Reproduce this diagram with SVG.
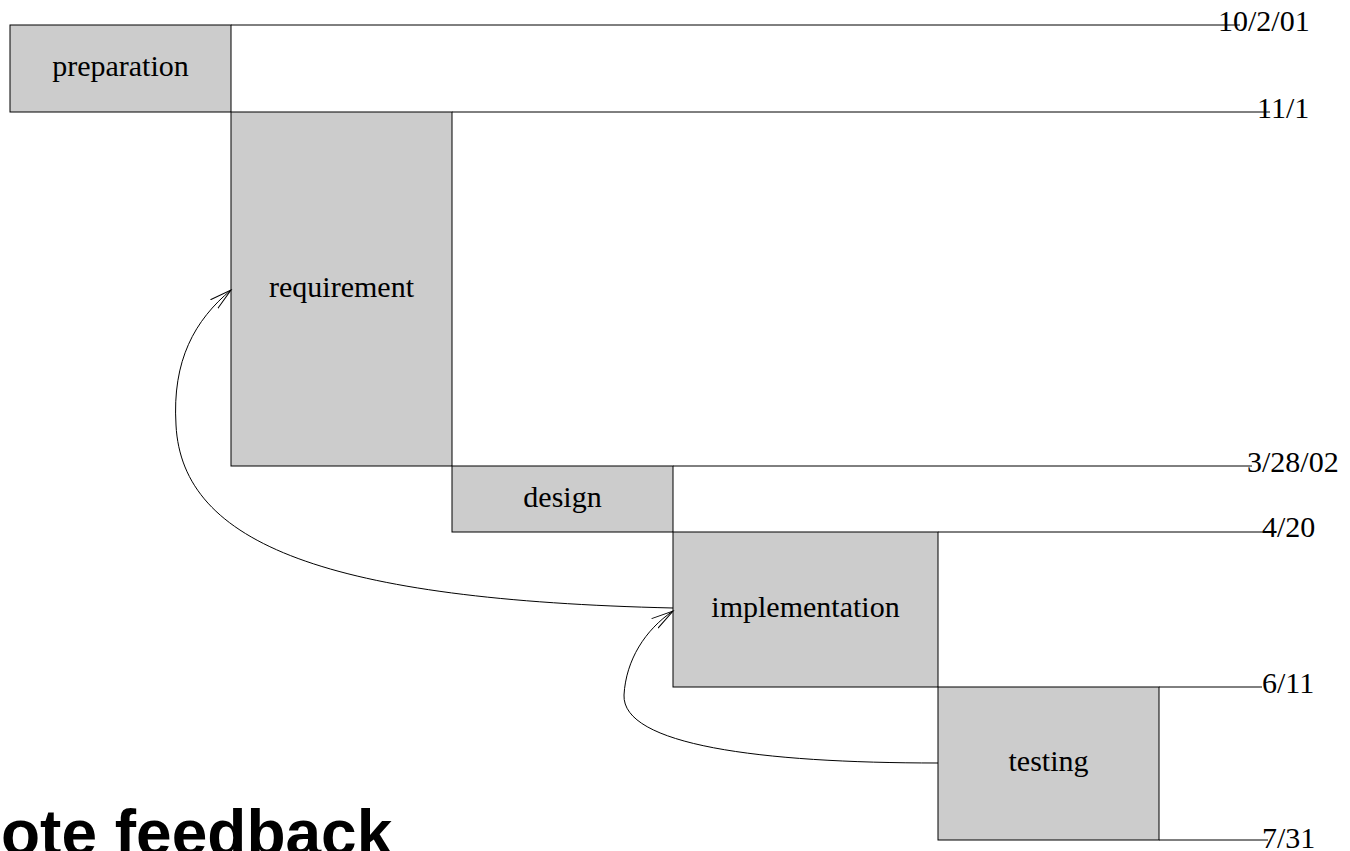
<svg xmlns="http://www.w3.org/2000/svg" width="1350" height="851" viewBox="0 0 1350 851">
  <style>
    .box { fill: #cccccc; stroke: #000000; stroke-width: 1; }
    .label { font-family: "Liberation Serif", "Times New Roman", serif; font-size: 30px; fill: #000000; }
    .node-label { text-anchor: middle; }
    .rule { stroke: #000000; stroke-width: 1; fill: none; }
    .flow { stroke: #000000; stroke-width: 1; fill: none; marker-end: url(#open-arrow); }
    .title { font-family: "Liberation Sans", Arial, sans-serif; font-weight: bold; font-size: 64px; fill: #000000; }
  </style>
  <defs>
    <marker id="open-arrow" viewBox="0 0 24 20" refX="22" refY="10" markerWidth="24" markerHeight="20" markerUnits="userSpaceOnUse" orient="auto">
      <path d="M0,4.3 L22,10 L0,15.7" fill="none" stroke="#000000" stroke-width="1"/>
    </marker>
  </defs>
  <rect width="1350" height="851" fill="#ffffff"/>

  <!-- milestone rules with dates -->
  <g id="milestones">
    <line class="rule" x1="231" y1="25" x2="1240" y2="25"/>
    <line class="rule" x1="452" y1="112" x2="1270" y2="112"/>
    <line class="rule" x1="673" y1="466" x2="1252" y2="466"/>
    <line class="rule" x1="938" y1="532" x2="1263" y2="532"/>
    <line class="rule" x1="1159" y1="687" x2="1262" y2="687"/>
    <line class="rule" x1="1159" y1="840" x2="1268" y2="840"/>
    <text class="label" x="1218" y="31">10/2/01</text>
    <text class="label" x="1257" y="118">11/1</text>
    <text class="label" x="1247" y="472">3/28/02</text>
    <text class="label" x="1262" y="537">4/20</text>
    <text class="label" x="1262" y="693">6/11</text>
    <text class="label" x="1262" y="848">7/31</text>
  </g>

  <!-- phases -->
  <g id="preparation">
    <rect class="box" x="10" y="25" width="221" height="87"/>
    <text class="label node-label" x="120.5" y="76">preparation</text>
  </g>
  <g id="requirement">
    <rect class="box" x="231" y="112" width="221" height="354"/>
    <text class="label node-label" x="341.5" y="297">requirement</text>
  </g>
  <g id="design">
    <rect class="box" x="452" y="466" width="221" height="66"/>
    <text class="label node-label" x="562.5" y="507">design</text>
  </g>
  <g id="implementation">
    <rect class="box" x="673" y="532" width="265" height="155"/>
    <text class="label node-label" x="805.5" y="617">implementation</text>
  </g>
  <g id="testing">
    <rect class="box" x="938" y="687" width="221" height="153"/>
    <text class="label node-label" x="1048.5" y="771">testing</text>
  </g>

  <!-- feedback loops -->
  <g id="connectors">
    <path class="flow" d="M673,608 C330,600 182,545 176,425 C172,360 195,320 231,290"/>
    <path class="flow" d="M938,763 C760,763 622,745 624,695 C626,660 645,630 673,611"/>
  </g>

  <text class="title" x="1" y="855">ote feedback</text>
</svg>
